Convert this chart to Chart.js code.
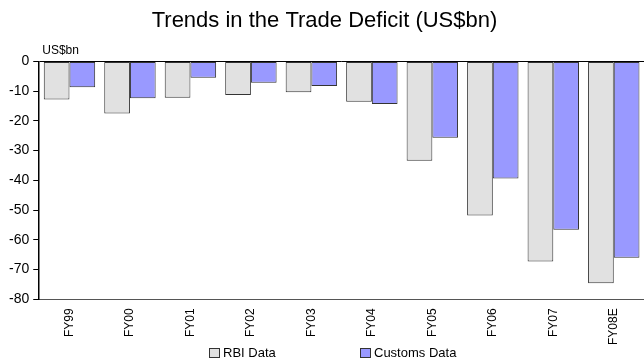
<!DOCTYPE html>
<html>
<head>
<meta charset="utf-8">
<script src="https://cdn.jsdelivr.net/npm/chart.js@4.4.0/dist/chart.umd.min.js"></script>
<style>
  html, body { margin: 0; padding: 0; background: #fff; }
  #wrap { width: 644px; height: 362px; }
</style>
</head>
<body>
<div id="wrap"><canvas id="deficit-chart"></canvas></div>
<script>
// Trade deficit, US$bn
const years = ["FY99", "FY00", "FY01", "FY02", "FY03", "FY04", "FY05", "FY06", "FY07", "FY08E"];
const rbiData = [-12.8, -17.5, -12.2, -11.3, -10.4, -13.6, -33.4, -51.8, -67.3, -74.6];
const customsData = [-8.7, -12.4, -5.5, -7.2, -8.3, -14.3, -25.7, -39.4, -56.6, -66.0];
const yTicks = [0, -10, -20, -30, -40, -50, -60, -70, -80];

const FONT = "'Liberation Sans', Arial, Helvetica, sans-serif";

// draws the "US$bn" unit label and the wide-spaced legend at the bottom
const extras = {
    id: 'extras',
    afterDraw(chart) {
        const ctx = chart.ctx;
        const area = chart.chartArea;
        ctx.save();
        ctx.fillStyle = '#000';
        ctx.font = '12px ' + FONT;
        ctx.textBaseline = 'bottom';
        ctx.textAlign = 'left';
        ctx.fillText('US$bn', area.left + 3, area.top - 5);

        ctx.font = '13px ' + FONT;
        ctx.textBaseline = 'middle';
        let x = chart.width / 2 - 113;
        const y = 353;
        chart.data.datasets.forEach((ds, i) => {
            const bx = x + i * 151;
            ctx.fillStyle = ds.backgroundColor;
            ctx.fillRect(bx, y - 4.5, 10, 9);
            ctx.strokeStyle = '#333';
            ctx.lineWidth = 1;
            ctx.strokeRect(bx + 0.5, y - 4.5, 10, 9);
            ctx.fillStyle = '#000';
            ctx.fillText(ds.label, bx + 14, y + 0.5);
        });
        ctx.restore();
    }
};

const ctx = document.getElementById('deficit-chart').getContext('2d');
const deficitChart = new Chart(ctx, {
    type: 'bar',
    data: {
        labels: years,
        datasets: [{
            label: 'RBI Data',
            data: rbiData,
            backgroundColor: '#e1e1e1',
            borderColor: '#333',
            borderWidth: 1,
            borderSkipped: false
        }, {
            label: 'Customs Data',
            data: customsData,
            backgroundColor: '#9999ff',
            borderColor: '#333',
            borderWidth: 1,
            borderSkipped: false
        }]
    },
    options: {
        responsive: true,
        maintainAspectRatio: false,
        animation: false,
        layout: { padding: { left: 5, right: 0, top: 0, bottom: 8 } },
        datasets: {
            bar: { categoryPercentage: 0.85, barPercentage: 1.0 }
        },
        plugins: {
            legend: { display: false },
            tooltip: { enabled: false },
            title: {
                display: true,
                text: 'Trends in the Trade Deficit (US$bn)',
                color: '#000',
                font: { family: FONT, size: 22, weight: 'normal' },
                padding: { top: 8, bottom: 27 }
            }
        },
        scales: {
            x: {
                grid: { display: false, drawTicks: false },
                border: { display: true, color: '#555', width: 1 },
                ticks: {
                    color: '#000',
                    font: { family: FONT, size: 12 },
                    minRotation: 90,
                    maxRotation: 90,
                    padding: 9
                }
            },
            y: {
                min: -80,
                max: 0,
                afterBuildTicks: axis => {
                    axis.ticks = yTicks.map(v => ({ value: v }));
                },
                grid: {
                    color: c => c.tick && c.tick.value === 0 ? '#000' : 'rgba(0,0,0,0)',
                    lineWidth: 1,
                    tickColor: '#000',
                    tickLength: 6
                },
                border: { display: true, color: '#000', width: 1.5 },
                ticks: {
                    color: '#000',
                    font: { family: FONT, size: 14 },
                    padding: 4
                }
            }
        }
    },
    plugins: [extras]
});
</script>
</body>
</html>
